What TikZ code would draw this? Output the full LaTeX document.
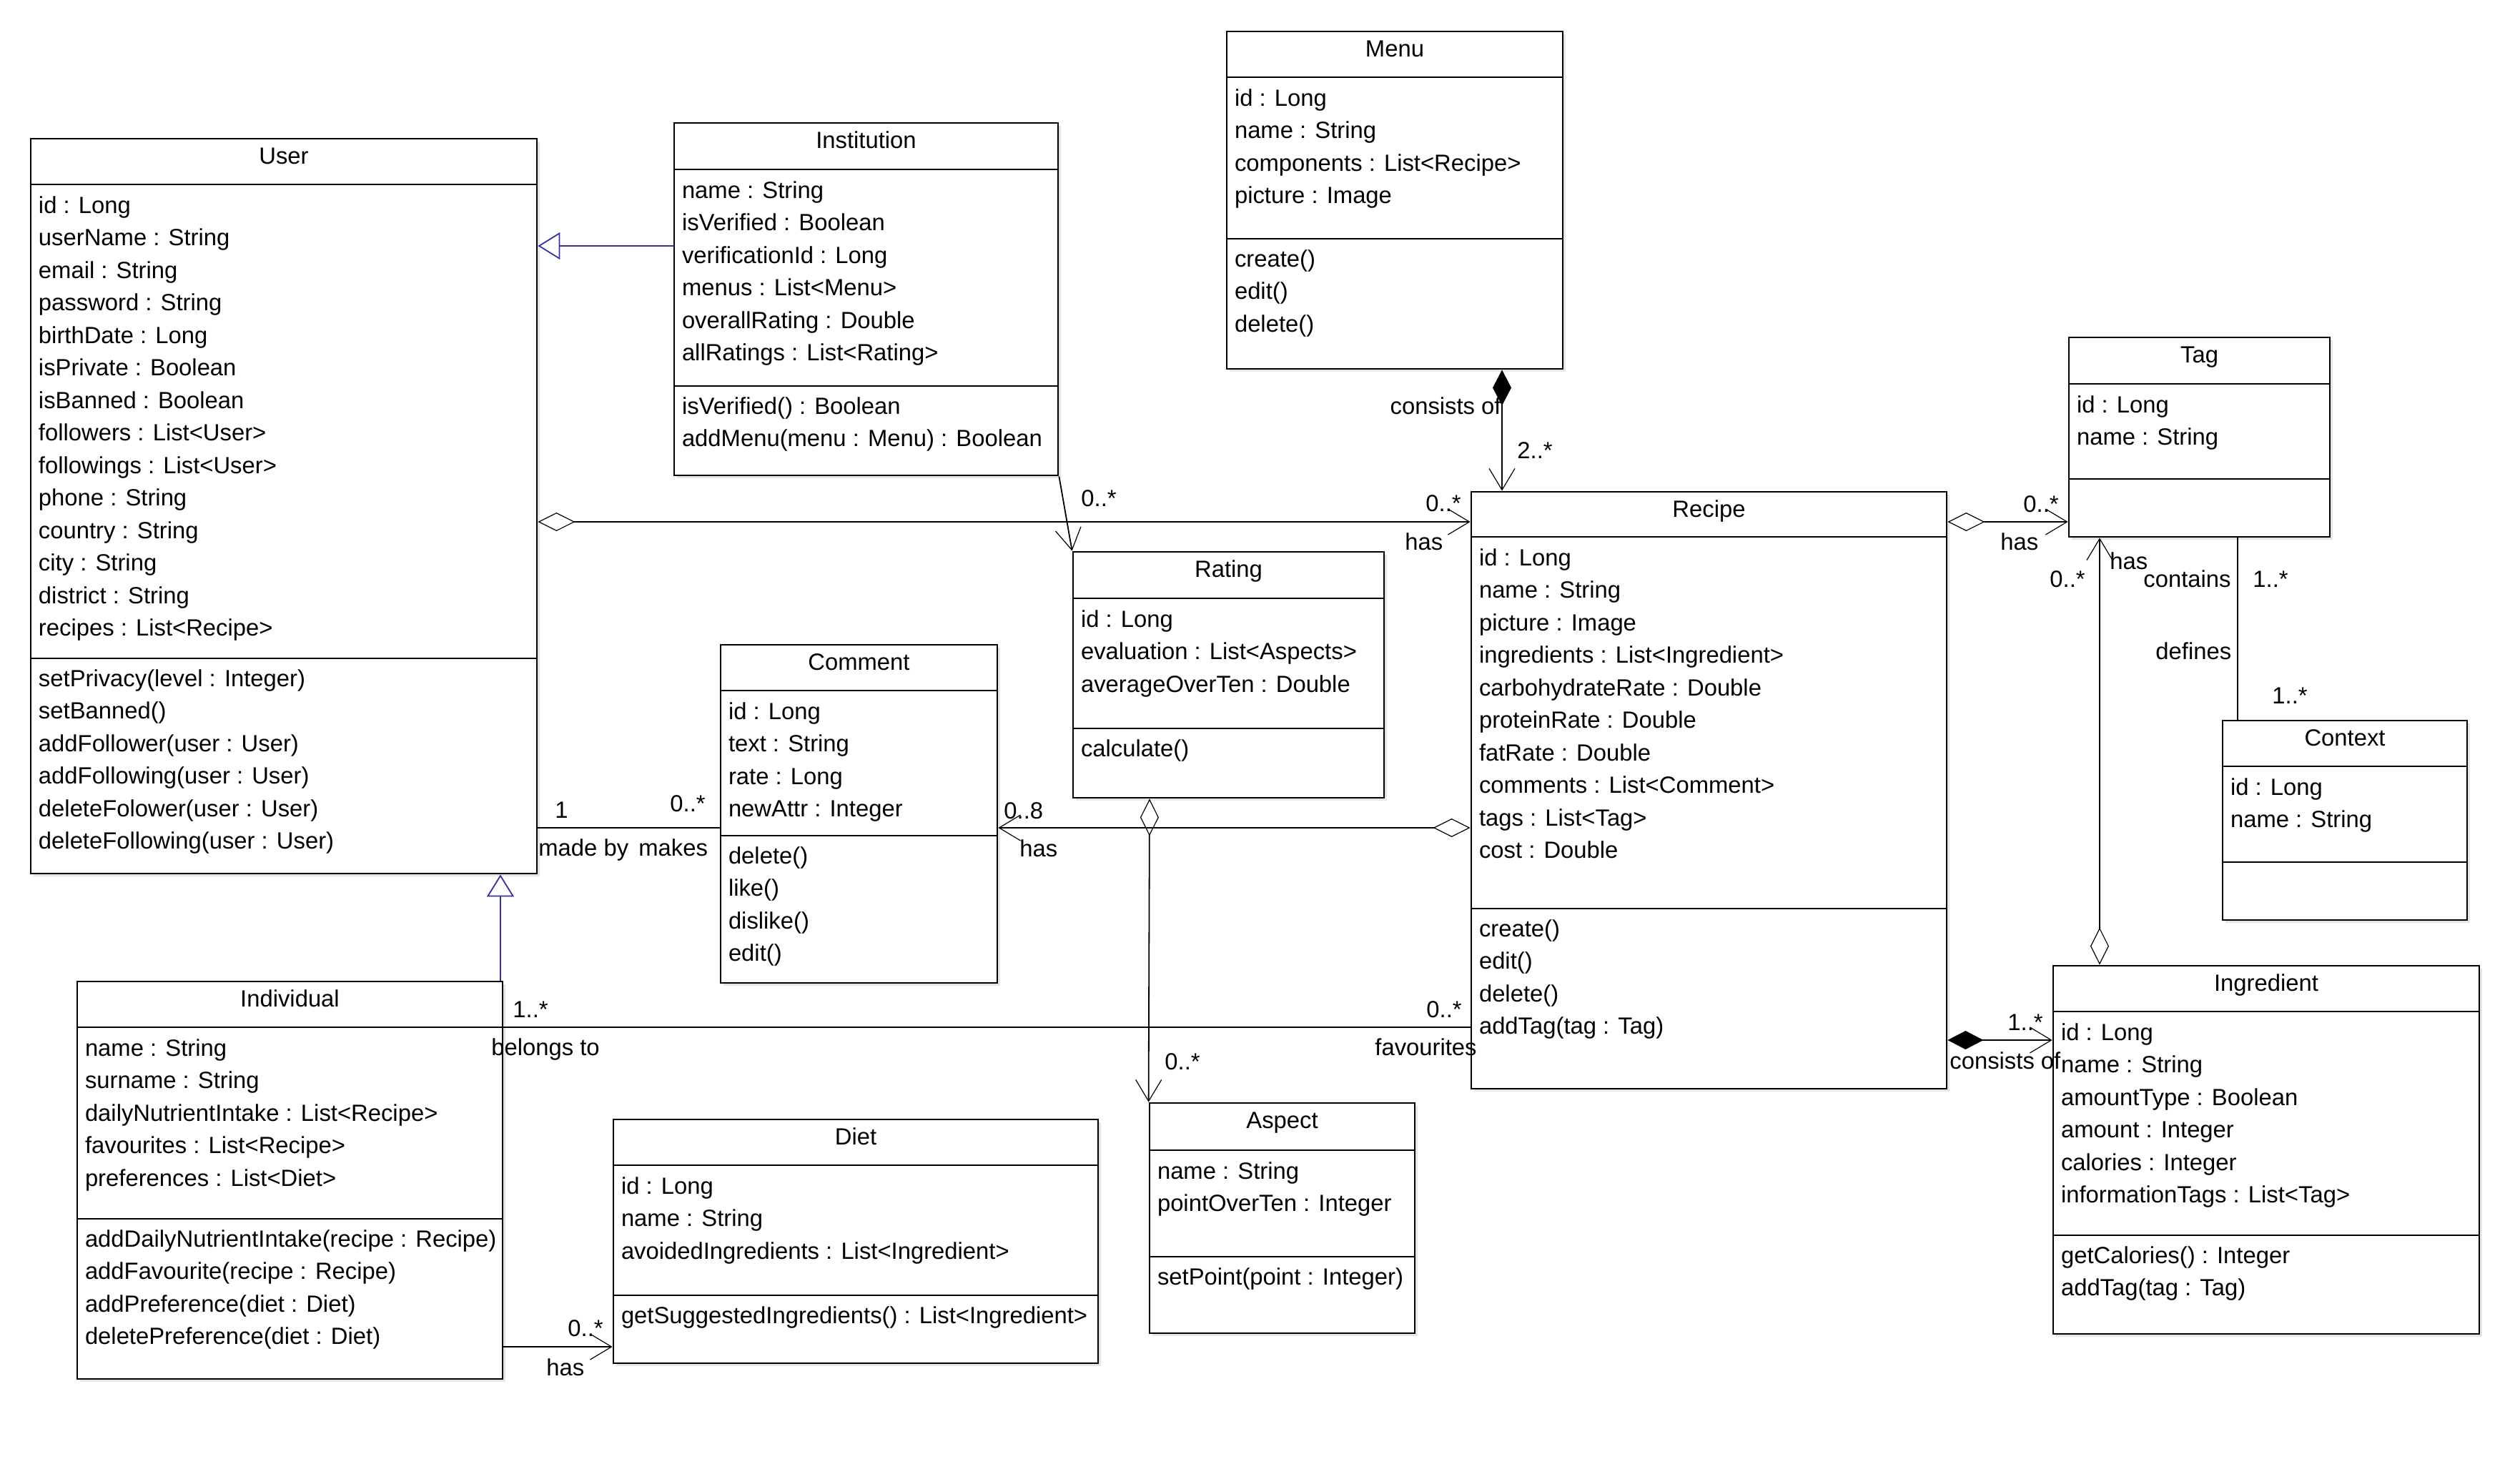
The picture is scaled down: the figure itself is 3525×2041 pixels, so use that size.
\documentclass[tikz,border=0pt]{standalone}
\usepackage{fontspec}
\setmainfont{Liberation Sans}
\usetikzlibrary{arrows.meta,fit,calc,shadows}
\definecolor{umlblue}{RGB}{51,51,153}

\newcommand{\umlclass}[8]{%
  \node[classbox, fit={#2 #3}] (#1) {};
  \draw[sepline] (#1.west |- 0,#4) -- (#1.east |- 0,#4);
  \draw[sepline] (#1.west |- 0,#5) -- (#1.east |- 0,#5);
  \node[classname] (#1-name) at ([yshift=-18.5pt]#1.north) {#6};
  \node[members] (#1-attrs) at ($(#1.west |- 0,#4)+(12,8)$) {\strut#7};
  \node[members] (#1-ops) at ($(#1.west |- 0,#5)+(12,7)$) {\strut#8};
}

\begin{document}
\begin{tikzpicture}[x=0.5pt, y=-0.5pt,
    every node/.style={font=\fontsize{16.4}{22.75}\selectfont},
    classbox/.style={draw, line width=1.4pt, inner sep=0, fill=white,
      drop shadow={shadow xshift=2pt, shadow yshift=-2pt, opacity=.2}},
    sepline/.style={line width=1pt},
    classname/.style={anchor=base, inner sep=0},
    members/.style={anchor=north west, align=left, inner sep=0},
    lbl/.style={anchor=base west, inner sep=0},
    barb/.tip={Straight Barb[length=15pt, width=18pt, line width=.6pt]},
    hollow/.tip={Diamond[open, length=26pt, width=13pt, line width=.6pt]},
    solid/.tip={Diamond[length=25pt, width=13pt]},
    assoc/.style={line width=.9pt},
    nav/.style={assoc, -barb},
    aggr/.style={assoc, hollow-barb},
    compo/.style={assoc, solid-barb},
    gen/.style={line width=.9pt, draw=umlblue,
      -{Triangle[open, length=15.5pt, width=19pt, fill=white]}}]
  \path[use as bounding box, fill=white] (0,0) rectangle (3525,2041);

  \umlclass{user}{(43,194)}{(751,1222)}{258}{921}{User}
    {id : Long\\userName : String\\email : String\\password : String\\birthDate : Long\\isPrivate : Boolean\\isBanned : Boolean\\followers : List<User>\\followings : List<User>\\phone : String\\country : String\\city : String\\district : String\\recipes : List<Recipe>}
    {setPrivacy(level : Integer)\\setBanned()\\addFollower(user : User)\\addFollowing(user : User)\\deleteFolower(user : User)\\deleteFollowing(user : User)}
  \umlclass{institution}{(943,172)}{(1480,665)}{237}{540}{Institution}
    {name : String\\isVerified : Boolean\\verificationId : Long\\menus : List<Menu>\\overallRating : Double\\allRatings : List<Rating>}
    {isVerified() : Boolean\\addMenu(menu : Menu) : Boolean}
  \umlclass{menu}{(1716,44)}{(2186,516)}{108}{334}{Menu}
    {id : Long\\name : String\\components : List<Recipe>\\picture : Image}
    {create()\\edit()\\delete()}
  \umlclass{tag}{(2894,472)}{(3259,751)}{537}{670}{Tag}
    {id : Long\\name : String}{}
  \umlclass{recipe}{(2058,688)}{(2723,1523)}{751}{1271}{Recipe}
    {id : Long\\name : String\\picture : Image\\ingredients : List<Ingredient>\\carbohydrateRate : Double\\proteinRate : Double\\fatRate : Double\\comments : List<Comment>\\tags : List<Tag>\\cost : Double}
    {create()\\edit()\\delete()\\addTag(tag : Tag)}
  \umlclass{rating}{(1501,772)}{(1936,1116)}{837}{1019}{Rating}
    {id : Long\\evaluation : List<Aspects>\\averageOverTen : Double}
    {calculate()}
  \umlclass{comment}{(1008,902)}{(1395,1375)}{966}{1169}{Comment}
    {id : Long\\text : String\\rate : Long\\newAttr : Integer}
    {delete()\\like()\\dislike()\\edit()}
  \umlclass{context}{(3109,1008)}{(3451,1287)}{1072}{1206}{Context}
    {id : Long\\name : String}{}
  \umlclass{individual}{(108,1373)}{(703,1929)}{1437}{1705}{Individual}
    {name : String\\surname : String\\dailyNutrientIntake : List<Recipe>\\favourites : List<Recipe>\\preferences : List<Diet>}
    {addDailyNutrientIntake(recipe : Recipe)\\addFavourite(recipe : Recipe)\\addPreference(diet : Diet)\\deletePreference(diet : Diet)}
  \umlclass{diet}{(858,1566)}{(1536,1907)}{1630}{1812}{Diet}
    {id : Long\\name : String\\avoidedIngredients : List<Ingredient>}
    {getSuggestedIngredients() : List<Ingredient>}
  \umlclass{aspect}{(1608,1543)}{(1979,1865)}{1609}{1758}{Aspect}
    {name : String\\pointOverTen : Integer}
    {setPoint(point : Integer)}
  \umlclass{ingredient}{(2872,1351)}{(3468,1866)}{1415}{1728}{Ingredient}
    {id : Long\\name : String\\amountType : Boolean\\amount : Integer\\calories : Integer\\informationTags : List<Tag>}
    {getCalories() : Integer\\addTag(tag : Tag)}

  \draw[gen] (institution.west |- 0,344) -- (user.east |- 0,344);
  \draw[gen] (700,0 |- individual.north) -- (700,0 |- user.south);

  \draw[aggr] (user.east |- 0,730) -- (recipe.west |- 0,730);
  \node[lbl] (recipe-has-m) at (1994,715) {0..*};
  \node[lbl] (recipe-has) at (1965,769) {has};

  \draw[nav] (institution.south east) -- (rating.north west);
  \node[lbl] (rating-m) at (1512,708) {0..*};

  \draw[compo] (2101,0 |- menu.south) -- (2101,0 |- recipe.north);
  \node[lbl, anchor=base east] (menu-consists) at (2100,579) {consists of};
  \node[lbl] (menu-m) at (2122,641) {2..*};

  \draw[aggr] (recipe.east |- 0,730) -- (tag.west |- 0,730);
  \node[lbl] (tag-m) at (2830,716) {0..*};
  \node[lbl] (tag-has) at (2798,769) {has};

  \draw[aggr, line width=.7pt] (2937,0 |- ingredient.north) -- (2937,0 |- tag.south);
  \node[lbl] (itag-m) at (2867,821) {0..*};
  \node[lbl] (itag-has) at (2951,796) {has};

  \draw[assoc, line width=.7pt] (3130,0 |- tag.south) -- (3130,0 |- context.north);
  \node[lbl] (ctx-contains) at (2998,821) {contains};
  \node[lbl] (ctx-m1) at (3151,821) {1..*};
  \node[lbl] (ctx-defines) at (3015,922) {defines};
  \node[lbl] (ctx-m2) at (3178,984) {1..*};

  \draw[assoc] (user.east |- 0,1158) -- (comment.west |- 0,1158);
  \node[lbl] (com-one) at (776,1144) {1};
  \node[lbl] (com-m) at (937,1135) {0..*};
  \node[lbl] (com-madeby) at (753,1197) {made by};
  \node[lbl] (com-makes) at (893,1197) {makes};

  \draw[aggr] (recipe.west |- 0,1158) -- (comment.east |- 0,1158);
  \node[lbl] (rcom-m) at (1404,1145) {0..8};
  \node[lbl] (rcom-has) at (1426,1198) {has};

  \draw[aggr] (1608,0 |- rating.south) -- (aspect.north west);
  \node[lbl] (asp-m) at (1629,1496) {0..*};

  \draw[assoc, line width=.7pt] (individual.east |- 0,1437) -- (recipe.west |- 0,1437);
  \node[lbl] (fav-m1) at (717,1423) {1..*};
  \node[lbl] (fav-belongs) at (687,1476) {belongs to};
  \node[lbl] (fav-m2) at (1995,1423) {0..*};
  \node[lbl] (fav-favourites) at (1923,1476) {favourites};

  \draw[nav] (individual.east |- 0,1884) -- (diet.west |- 0,1884);
  \node[lbl] (diet-m) at (794,1869) {0..*};
  \node[lbl] (diet-has) at (764,1924) {has};

  \draw[compo] (recipe.east |- 0,1455) -- (ingredient.west |- 0,1455);
  \node[lbl] (ing-m) at (2808,1441) {1..*};
  \node[lbl] (ing-consists) at (2727,1495) {consists of};
\end{tikzpicture}
\end{document}
